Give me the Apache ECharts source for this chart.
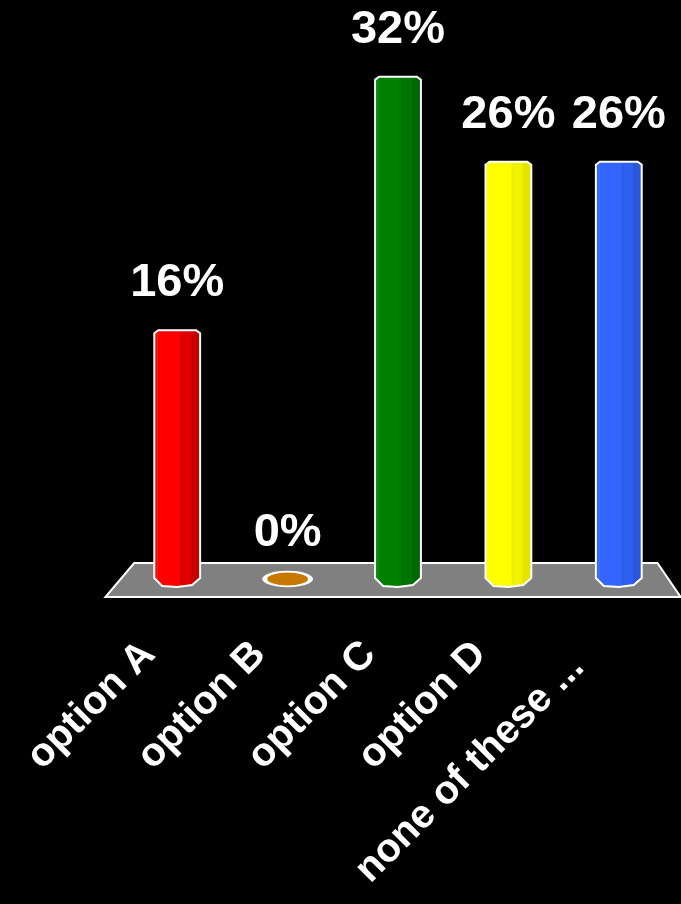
<!DOCTYPE html>
<html>
<head>
<meta charset="utf-8">
<script src="https://cdn.jsdelivr.net/npm/echarts@6/dist/echarts.min.js"></script>
<style>
  html, body { margin: 0; padding: 0; background: #000; }
  #chart { width: 681px; height: 904px; }
</style>
</head>
<body>
<div id="chart"></div>
<script>
// ---- data ----
const categories = ['option A', 'option B', 'option C', 'option D', 'none of these ...'];
const values = [15.8, 0, 31.6, 26.3, 26.3];   // percent of responses
const valueLabels = ['16%', '0%', '32%', '26%', '26%'];

// ---- styling ----
const palette = [
  ['#FF0000', '#E00000', '#C40000'],
  ['#C87800', '#C87800', '#C87800'],
  ['#008000', '#007400', '#006800'],
  ['#FFFF00', '#F2F200', '#E4E400'],
  ['#3366FF', '#2F5FF0', '#2A56DA']
];
const FONT = '"Liberation Sans", Arial, sans-serif';

const chart = echarts.init(document.getElementById('chart'), null, { renderer: 'canvas' });

function renderFloor(params, api) {
  const first = api.coord([0, 0]);
  const last = api.coord([categories.length - 1, 0]);
  const band = api.size([1, 0])[0];
  const y = first[1];
  const pts = [
    [first[0] - 0.39 * band, y - 21],
    [last[0] + 0.35 * band, y - 21],
    [last[0] + 0.56 * band, y + 13],
    [first[0] - 0.65 * band, y + 13]
  ];
  return {
    type: 'polygon',
    shape: { points: pts },
    style: { fill: '#808080', stroke: '#FFFFFF', lineWidth: 2 }
  };
}

function renderBar(params, api) {
  const idx = api.value(0);
  const v = api.value(1);
  const base = api.coord([idx, 0]);
  const top = api.coord([idx, v]);
  const band = api.size([1, 0])[0];
  const w = band * 0.415;
  const cx = base[0];
  const x0 = cx - w / 2, x1 = cx + w / 2;
  const yb = base[1], yt = top[1];
  const col = palette[idx];
  const children = [];
  if (v === 0) {
    children.push({
      type: 'circle',
      shape: { cx: 0, cy: 0, r: w * 0.5 },
      x: cx, y: yb - 5, scaleY: 0.32,
      style: { fill: col[0], stroke: '#FFFFFF', lineWidth: 5 }
    });
  } else {
    const pts = [
      [x0, yt + 3], [x0 + 4, yt], [x1 - 4, yt], [x1, yt + 3],
      [x1, yb - 6], [x1 - 8, yb + 1], [cx, yb + 3], [x0 + 8, yb + 2], [x0, yb - 6]
    ];
    children.push({
      type: 'polygon',
      shape: { points: pts },
      style: {
        fill: new echarts.graphic.LinearGradient(0, 0, 1, 0, [
          { offset: 0, color: col[0] },
          { offset: 0.58, color: col[0] },
          { offset: 0.581, color: col[1] },
          { offset: 0.82, color: col[1] },
          { offset: 0.821, color: col[2] },
          { offset: 1, color: col[2] }
        ]),
        stroke: null
      }
    });
    [0.58, 0.82].forEach(function (f) {
      children.push({
        type: 'line',
        shape: { x1: x0 + w * f, y1: yt + 2, x2: x0 + w * f, y2: yb + 1 },
        style: { stroke: col[2], lineWidth: 1, opacity: 0.8 }
      });
    });
    children.push({
      type: 'line',
      shape: { x1: x0 + 3, y1: yt + 3, x2: x0 + 3, y2: yb - 4 },
      style: { stroke: '#FFFFFF', lineWidth: 1, opacity: 0.12 }
    });
    children.push({
      type: 'polygon',
      shape: { points: pts },
      style: { fill: null, stroke: '#FFFFFF', lineWidth: 2 }
    });
  }
  const ref = v === 0 ? yb - 4 : yt;
  children.push({
    type: 'text',
    style: {
      text: valueLabels[idx],
      x: cx, y: ref - 47,
      align: 'center', verticalAlign: 'middle',
      fill: '#FFFFFF',
      font: 'bold 47px ' + FONT
    }
  });
  return { type: 'group', children: children };
}

const axisData = categories.map(function (c, i) {
  return i === categories.length - 1 ? { value: c, textStyle: { padding: [24, 58, 0, 0] } } : c;
});

const option = {
  backgroundColor: '#000000',
  animation: false,
  grid: { left: 122, right: 7, top: 6, bottom: 320, containLabel: false, outerBoundsMode: 'none' },
  xAxis: {
    type: 'category',
    data: axisData,
    axisLine: { show: false },
    axisTick: { show: false },
    splitLine: { show: false },
    axisLabel: {
      interval: 0,
      rotate: 45,
      margin: 36,
      padding: [0, 40, 0, 0],
      color: '#FFFFFF',
      fontSize: 40,
      fontWeight: 'bold',
      fontFamily: FONT
    }
  },
  yAxis: { type: 'value', min: 0, max: 36, show: false, splitLine: { show: false } },
  series: [
    {
      type: 'custom',
      silent: true,
      z: 1,
      renderItem: renderFloor,
      data: [[0, 0]],
      encode: { x: 0, y: 1 }
    },
    {
      type: 'custom',
      z: 2,
      renderItem: renderBar,
      data: values.map(function (v, i) { return [i, v]; }),
      encode: { x: 0, y: 1 }
    }
  ]
};
chart.setOption(option);
</script>
</body>
</html>
